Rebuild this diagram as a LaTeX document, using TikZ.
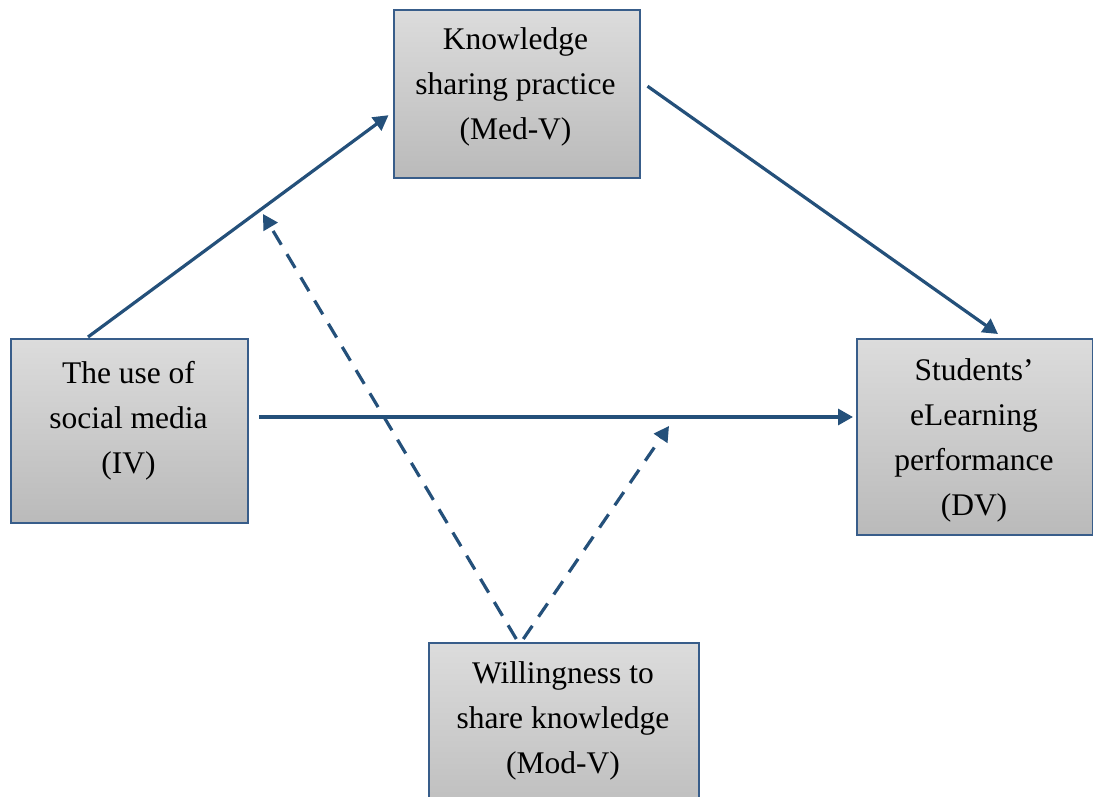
\documentclass[tikz,border=0pt]{standalone}
\usepackage{fontspec}
\setmainfont{Liberation Serif}
\usetikzlibrary{arrows.meta,calc}
\definecolor{boxline}{HTML}{385D8A}
\definecolor{arrowc}{HTML}{24507A}
\definecolor{gtop}{HTML}{DCDCDC}
\definecolor{gbot}{HTML}{BABABA}
\tikzset{
  varbox/.style={draw=boxline, line width=2pt, top color=gtop, bottom color=gbot,
    rectangle, inner sep=0pt, anchor=north west},
  lbl/.style={align=center, inner sep=0pt, anchor=north,
    font=\fontsize{31.5}{45}\selectfont},
  conn/.style={draw=arrowc, line width=3.2pt, -{Triangle[length=15pt,width=16pt]}},
  dconn/.style={conn, dash pattern=on 16pt off 11pt},
}
\begin{document}
\begin{tikzpicture}[x=1pt,y=-1pt]
\useasboundingbox (0,0) rectangle (1093,797);
\clip (0,0) rectangle (1093,797);
% boxes
\node[varbox, minimum width=246pt, minimum height=168pt] (med) at (392.5,8.7) {};
\node[varbox, minimum width=237pt, minimum height=184pt] (iv) at (10,338) {};
\node[varbox, minimum width=236pt, minimum height=196pt] (dv) at (856,338) {};
\node[varbox, minimum width=270pt, minimum height=190pt] (mod) at (428.3,642) {};
% labels
\node[lbl] (medt) at (515.5,27) {Knowledge\\sharing practice\\(Med-V)};
\node[lbl] (ivt) at (128.5,361) {The use of\\social media\\(IV)};
\node[lbl] (dvt) at (974,358) {Students’\\eLearning\\performance\\(DV)};
\node[lbl] (modt) at (563,661) {Willingness to\\share knowledge\\(Mod-V)};
% free ends of the moderating arrows
\coordinate (m1) at (263,214);
\coordinate (m2) at (669,426);
% connectors
\draw[conn] ($(iv.north)+(-41.5,-1)$) -- ($(med.west)+(-4,21.5)$);
\draw[conn] ($(med.east)+(7,-7.5)$) -- ($(dv.north)+(23,-4)$);
\draw[conn] ($(iv.east)+(10,-14)$) -- ($(dv.west)+(-3,-20)$);
\draw[dconn] ($(mod.north)+(-48,-3)$) -- (m1);
\draw[dconn] ($(mod.north)+(-41,-3)$) -- (m2);
\end{tikzpicture}
\end{document}
